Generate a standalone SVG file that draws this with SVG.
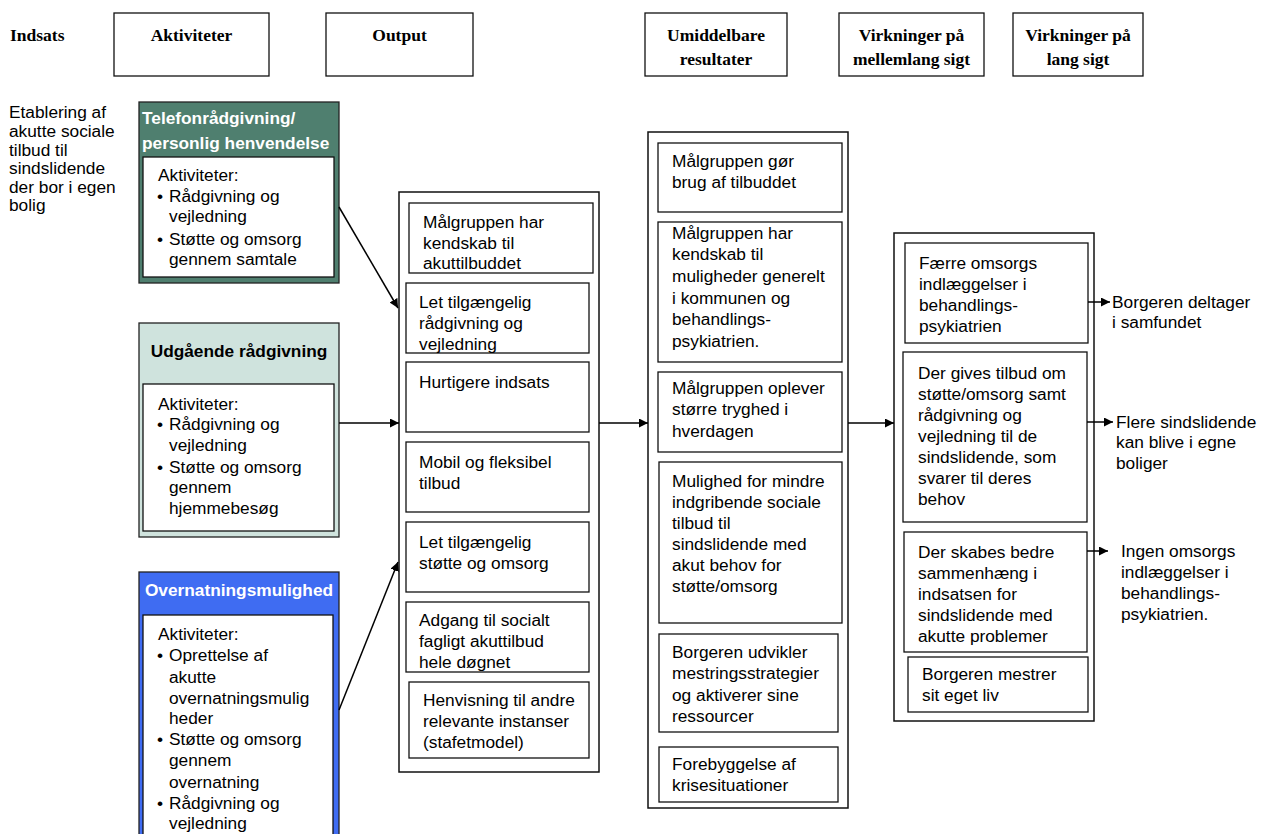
<svg xmlns="http://www.w3.org/2000/svg" width="1274" height="834" viewBox="0 0 1274 834">
<defs>
<marker id="ah" viewBox="0 0 10 10" refX="10" refY="5" markerWidth="9" markerHeight="9" markerUnits="userSpaceOnUse" orient="auto">
<path d="M0,0 L10,5 L0,10 z" fill="#000"/>
</marker>
<style>
.hdr{font-family:"Liberation Serif","Times New Roman",serif;font-weight:bold;font-size:17.5px;fill:#000}
.t{font-family:"Liberation Sans",Arial,sans-serif;font-size:17.3px;fill:#000}
.tb{font-family:"Liberation Sans",Arial,sans-serif;font-size:17.3px;font-weight:bold}
.box{fill:#fff;stroke:#111;stroke-width:1.3}
.col{fill:#fff;stroke:#111;stroke-width:1.5}
.conn{stroke:#000;stroke-width:1.5;fill:none;marker-end:url(#ah)}
</style>
</defs>
<rect width="1274" height="834" fill="#fff"/>

<g id="headers">
<text class="hdr" x="10" y="41">Indsats</text>
<rect class="box" x="114" y="13" width="155" height="63"/>
<text class="hdr" x="191.5" y="41" text-anchor="middle">Aktiviteter</text>
<rect class="box" x="326" y="13" width="147" height="63"/>
<text class="hdr" x="399.5" y="41" text-anchor="middle">Output</text>
<rect class="box" x="645" y="13" width="142" height="63"/>
<text class="hdr" x="716" y="41" text-anchor="middle">Umiddelbare</text>
<text class="hdr" x="716" y="65" text-anchor="middle">resultater</text>
<rect class="box" x="839" y="13" width="145" height="63"/>
<text class="hdr" x="911.5" y="41" text-anchor="middle">Virkninger på</text>
<text class="hdr" x="911.5" y="65" text-anchor="middle">mellemlang sigt</text>
<rect class="box" x="1013" y="13" width="130" height="63"/>
<text class="hdr" x="1078" y="41" text-anchor="middle">Virkninger på</text>
<text class="hdr" x="1078" y="65" text-anchor="middle">lang sigt</text>
</g>

<g id="indsats">
<text class="t" x="9" y="118">Etablering af</text>
<text class="t" x="9" y="137">akutte sociale</text>
<text class="t" x="9" y="156">tilbud til</text>
<text class="t" x="9" y="174">sindslidende</text>
<text class="t" x="9" y="193">der bor i egen</text>
<text class="t" x="9" y="211">bolig</text>
</g>

<g id="telefon">
<rect x="139" y="102" width="200" height="181" fill="#4F7F6F" stroke="#222" stroke-width="1.3"/>
<text class="tb" x="142" y="124" fill="#fff">Telefonrådgivning/</text>
<text class="tb" x="142" y="149" fill="#fff">personlig henvendelse</text>
<rect class="box" x="143" y="157" width="191" height="120"/>
<text class="t" x="158" y="181">Aktiviteter:</text>
<text class="t" x="157" y="202">•</text><text class="t" x="169" y="202">Rådgivning og</text>
<text class="t" x="169" y="222">vejledning</text>
<text class="t" x="157" y="245">•</text><text class="t" x="169" y="245">Støtte og omsorg</text>
<text class="t" x="169" y="265">gennem samtale</text>
</g>

<g id="udgaaende">
<rect x="139" y="323" width="200" height="214" fill="#CFE3DD" stroke="#222" stroke-width="1.3"/>
<text class="tb" x="239" y="357" text-anchor="middle" fill="#000">Udgående rådgivning</text>
<rect class="box" x="143" y="384" width="191" height="147"/>
<text class="t" x="158" y="410">Aktiviteter:</text>
<text class="t" x="157" y="430">•</text><text class="t" x="169" y="430">Rådgivning og</text>
<text class="t" x="169" y="451">vejledning</text>
<text class="t" x="157" y="473">•</text><text class="t" x="169" y="473">Støtte og omsorg</text>
<text class="t" x="169" y="493">gennem</text>
<text class="t" x="169" y="514">hjemmebesøg</text>
</g>

<g id="overnatning">
<rect x="139" y="572" width="200" height="270" fill="#3F6CF2" stroke="#222" stroke-width="1.3"/>
<text class="tb" x="239" y="596" text-anchor="middle" fill="#fff">Overnatningsmulighed</text>
<rect class="box" x="143" y="615" width="190" height="230"/>
<text class="t" x="158" y="640">Aktiviteter:</text>
<text class="t" x="157" y="661">•</text><text class="t" x="169" y="661">Oprettelse af</text>
<text class="t" x="169" y="683">akutte</text>
<text class="t" x="169" y="704">overnatningsmulig</text>
<text class="t" x="169" y="724">heder</text>
<text class="t" x="157" y="745">•</text><text class="t" x="169" y="745">Støtte og omsorg</text>
<text class="t" x="169" y="766">gennem</text>
<text class="t" x="169" y="788">overnatning</text>
<text class="t" x="157" y="809">•</text><text class="t" x="169" y="809">Rådgivning og</text>
<text class="t" x="169" y="829">vejledning</text>
</g>

<g id="output">
<rect class="col" x="399" y="192" width="200" height="580"/>
<rect class="box" x="409" y="203" width="184" height="70"/>
<text class="t" x="423" y="228">Målgruppen har</text>
<text class="t" x="423" y="249">kendskab til</text>
<text class="t" x="423" y="269">akuttilbuddet</text>
<rect class="box" x="406" y="283" width="183" height="70"/>
<text class="t" x="419" y="308">Let tilgængelig</text>
<text class="t" x="419" y="329">rådgivning og</text>
<text class="t" x="419" y="350">vejledning</text>
<rect class="box" x="406" y="362" width="183" height="70"/>
<text class="t" x="419" y="388">Hurtigere indsats</text>
<rect class="box" x="406" y="442" width="183" height="70"/>
<text class="t" x="419" y="468">Mobil og fleksibel</text>
<text class="t" x="419" y="489">tilbud</text>
<rect class="box" x="406" y="522" width="183" height="70"/>
<text class="t" x="419" y="548">Let tilgængelig</text>
<text class="t" x="419" y="569">støtte og omsorg</text>
<rect class="box" x="406" y="602" width="183" height="70"/>
<text class="t" x="419" y="626">Adgang til socialt</text>
<text class="t" x="419" y="647">fagligt akuttilbud</text>
<text class="t" x="419" y="668">hele døgnet</text>
<rect class="box" x="409" y="682" width="180" height="76"/>
<text class="t" x="423" y="706">Henvisning til andre</text>
<text class="t" x="423" y="727">relevante instanser</text>
<text class="t" x="423" y="748">(stafetmodel)</text>
</g>

<g id="resultater">
<rect class="col" x="648" y="132" width="200" height="676"/>
<rect class="box" x="658" y="143" width="184" height="69"/>
<text class="t" x="672" y="167">Målgruppen gør</text>
<text class="t" x="672" y="188">brug af tilbuddet</text>
<rect class="box" x="658" y="222" width="184" height="140"/>
<text class="t" x="672" y="239">Målgruppen har</text>
<text class="t" x="672" y="260">kendskab til</text>
<text class="t" x="672" y="282">muligheder generelt</text>
<text class="t" x="672" y="304">i kommunen og</text>
<text class="t" x="672" y="325">behandlings-</text>
<text class="t" x="672" y="347">psykiatrien.</text>
<rect class="box" x="658" y="372" width="184" height="80"/>
<text class="t" x="672" y="394">Målgruppen oplever</text>
<text class="t" x="672" y="415">større tryghed i</text>
<text class="t" x="672" y="437">hverdagen</text>
<rect class="box" x="659" y="462" width="183" height="161"/>
<text class="t" x="672" y="487">Mulighed for mindre</text>
<text class="t" x="672" y="508">indgribende sociale</text>
<text class="t" x="672" y="529">tilbud til</text>
<text class="t" x="672" y="550">sindslidende med</text>
<text class="t" x="672" y="571">akut behov for</text>
<text class="t" x="672" y="592">støtte/omsorg</text>
<rect class="box" x="659" y="634" width="179" height="98"/>
<text class="t" x="672" y="658">Borgeren udvikler</text>
<text class="t" x="672" y="679">mestringsstrategier</text>
<text class="t" x="672" y="701">og aktiverer sine</text>
<text class="t" x="672" y="722">ressourcer</text>
<rect class="box" x="659" y="747" width="179" height="55"/>
<text class="t" x="672" y="770">Forebyggelse af</text>
<text class="t" x="672" y="791">krisesituationer</text>
</g>

<g id="mellemlang">
<rect class="col" x="894" y="233" width="200" height="488"/>
<rect class="box" x="905" y="243" width="183" height="100"/>
<text class="t" x="919" y="269">Færre omsorgs</text>
<text class="t" x="919" y="290">indlæggelser i</text>
<text class="t" x="919" y="311">behandlings-</text>
<text class="t" x="919" y="332">psykiatrien</text>
<rect class="box" x="903" y="352" width="184" height="170"/>
<text class="t" x="918" y="379">Der gives tilbud om</text>
<text class="t" x="918" y="400">støtte/omsorg samt</text>
<text class="t" x="918" y="421">rådgivning og</text>
<text class="t" x="918" y="442">vejledning til de</text>
<text class="t" x="918" y="463">sindslidende, som</text>
<text class="t" x="918" y="484">svarer til deres</text>
<text class="t" x="918" y="505">behov</text>
<rect class="box" x="904" y="532" width="183" height="120"/>
<text class="t" x="918" y="558">Der skabes bedre</text>
<text class="t" x="918" y="579">sammenhæng i</text>
<text class="t" x="918" y="600">indsatsen for</text>
<text class="t" x="918" y="621">sindslidende med</text>
<text class="t" x="918" y="642">akutte problemer</text>
<rect class="box" x="908" y="657" width="180" height="55"/>
<text class="t" x="922" y="680">Borgeren mestrer</text>
<text class="t" x="922" y="701">sit eget liv</text>
</g>

<g id="langsigt">
<text class="t" x="1112" y="308">Borgeren deltager</text>
<text class="t" x="1112" y="328">i samfundet</text>
<text class="t" x="1116" y="428">Flere sindslidende</text>
<text class="t" x="1116" y="448">kan blive i egne</text>
<text class="t" x="1116" y="469">boliger</text>
<text class="t" x="1121" y="557">Ingen omsorgs</text>
<text class="t" x="1121" y="578">indlæggelser i</text>
<text class="t" x="1121" y="599">behandlings-</text>
<text class="t" x="1121" y="620">psykiatrien.</text>
</g>

<g id="connectors">
<line class="conn" x1="339" y1="207" x2="398" y2="308"/>
<line class="conn" x1="339" y1="423" x2="399" y2="423"/>
<line class="conn" x1="339" y1="710" x2="398" y2="562"/>
<line class="conn" x1="599" y1="423" x2="648" y2="423"/>
<line class="conn" x1="848" y1="423" x2="894" y2="423"/>
<line class="conn" x1="1088" y1="302" x2="1110" y2="302"/>
<line class="conn" x1="1087" y1="422" x2="1113" y2="422"/>
<line class="conn" x1="1087" y1="551" x2="1108" y2="551"/>
</g>
</svg>
